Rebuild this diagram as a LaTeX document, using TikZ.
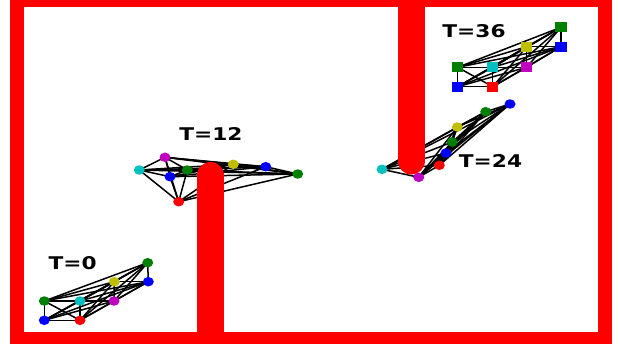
\documentclass[tikz,border=0pt]{standalone}
\usepackage{fontspec}
\setmainfont{DejaVu Sans}
\usetikzlibrary{shapes.geometric}
\pgfdeclarelayer{background}
\pgfsetlayers{background,main}
\definecolor{mgreen}{rgb}{0,0.5,0}
\definecolor{mcyan}{rgb}{0,0.75,0.75}
\definecolor{mmagenta}{rgb}{0.75,0,0.75}
\definecolor{myellow}{rgb}{0.75,0.75,0}
\tikzset{
  dot/.style={ellipse,fill=#1,inner sep=0pt,minimum width=11pt,minimum height=9.5pt},
  sq/.style={rectangle,fill=#1,inner sep=0pt,minimum width=11.5pt,minimum height=10pt},
  wall/.style={red,line width=14pt},
  pole/.style={red,line width=27pt,line cap=round},
  link/.style={black,line width=1.5pt},
  tlabel/.style={font=\fontsize{17.5}{20}\selectfont\bfseries,xscale=1.24,inner sep=0pt}
}
\begin{document}
\begin{tikzpicture}[x=1pt,y=-1pt]
\useasboundingbox (0,0) rectangle (620,343);

% T=0
\node[dot=mgreen]   (a1) at (147.7,262.7) {};
\node[dot=blue]     (a2) at (148.3,281.7) {};
\node[dot=myellow]  (a3) at (114.3,281.7) {};
\node[dot=mmagenta] (a4) at (114,301) {};
\node[dot=mcyan]    (a5) at (80,301) {};
\node[dot=mgreen]   (a6) at (44.3,301) {};
\node[dot=blue]     (a7) at (44.3,320.3) {};
\node[dot=red]      (a8) at (80,320.3) {};

% T=12
\node[dot=mmagenta] (b1) at (165,157.3) {};
\node[dot=mcyan]    (b2) at (139.3,170) {};
\node[dot=blue]     (b3) at (170,176.7) {};
\node[dot=mgreen]   (b4) at (187.3,170) {};
\node[dot=myellow]  (b5) at (233.3,164.3) {};
\node[dot=blue]     (b6) at (265.7,166.7) {};
\node[dot=mgreen]   (b7) at (297.7,174) {};
\node[dot=red]      (b8) at (178.7,201.7) {};

% T=24
\node[dot=blue]     (c1) at (510,104) {};
\node[dot=mgreen]   (c2) at (485.7,111.7) {};
\node[dot=myellow]  (c3) at (457.3,127) {};
\node[dot=mgreen]   (c4) at (452.3,142) {};
\node[dot=blue]     (c5) at (446,153) {};
\node[dot=red]      (c6) at (439.3,165.3) {};
\node[dot=mcyan]    (c7) at (382,169.3) {};
\node[dot=mmagenta] (c8) at (418.7,177.3) {};

% T=36
\node[sq=mgreen]    (d1) at (561,27.3) {};
\node[sq=blue]      (d2) at (561,46.7) {};
\node[sq=myellow]   (d3) at (526.7,46.7) {};
\node[sq=mmagenta]  (d4) at (526.7,67.3) {};
\node[sq=mcyan]     (d5) at (492.7,67.3) {};
\node[sq=mgreen]    (d6) at (457.7,67.3) {};
\node[sq=blue]      (d7) at (457.7,86.7) {};
\node[sq=red]       (d8) at (492.7,86.7) {};

\node[tlabel] (t0)  at (72.7,263)  {T=0};
\node[tlabel] (t12) at (211,134)   {T=12};
\node[tlabel] (t24) at (490.5,161) {T=24};
\node[tlabel] (t36) at (474,31)    {T=36};

\begin{pgfonlayer}{background}
  \foreach \g in {a,b,c,d}{
    \foreach \i in {1,...,7}{
      \pgfmathtruncatemacro\k{\i+1}
      \foreach \j in {\k,...,8}
        \draw[link] (\g\i.center) -- (\g\j.center);
    }
  }
  % walls and poles
  \draw[wall] (17,0) rectangle (605,339);
  \draw[pole] (210.5,350) -- (210.5,175.5);
  \draw[pole] (411,-10) -- (411,161);
\end{pgfonlayer}
\end{tikzpicture}
\end{document}
